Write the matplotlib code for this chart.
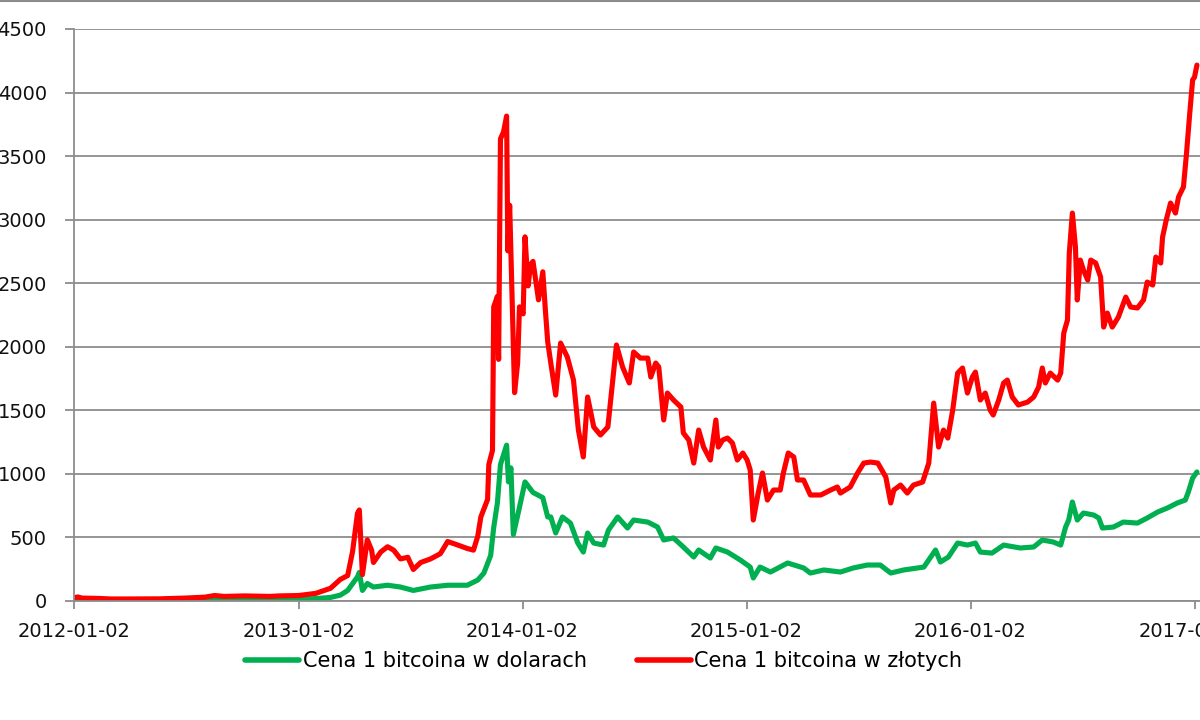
import matplotlib
matplotlib.use('Agg')
import matplotlib.pyplot as plt
import matplotlib.dates as mdates
import pandas as pd
from matplotlib.lines import Line2D

# Cena 1 bitcoina w dolarach (USD)
usd_dates = [
    '2012-01-02', '2012-01-10', '2012-02-01', '2012-03-01', '2012-04-01', '2012-05-01',
    '2012-06-01', '2012-07-01', '2012-08-01', '2012-08-16', '2012-09-01', '2012-10-01',
    '2012-11-01', '2012-12-01', '2013-01-02', '2013-01-30', '2013-02-23', '2013-03-11',
    '2013-03-23', '2013-04-08', '2013-04-11', '2013-04-16', '2013-04-24', '2013-05-04',
    '2013-05-27', '2013-06-17', '2013-07-08', '2013-08-05', '2013-09-02', '2013-10-04',
    '2013-10-21', '2013-10-31', '2013-11-11', '2013-11-16', '2013-11-22', '2013-11-27',
    '2013-12-02', '2013-12-07', '2013-12-10', '2013-12-14', '2013-12-18', '2013-12-27',
    '2014-01-06', '2014-01-19', '2014-02-04', '2014-02-12', '2014-02-17', '2014-02-25',
    '2014-03-08', '2014-03-21', '2014-04-02', '2014-04-11', '2014-04-18', '2014-04-28',
    '2014-05-14', '2014-05-22', '2014-06-06', '2014-06-22', '2014-07-02', '2014-07-25',
    '2014-08-10', '2014-08-20', '2014-09-05', '2014-09-21', '2014-10-08', '2014-10-16',
    '2014-11-04', '2014-11-13', '2014-12-02', '2014-12-23', '2015-01-08', '2015-01-13',
    '2015-01-24', '2015-02-10', '2015-03-10', '2015-04-05', '2015-04-16', '2015-05-08',
    '2015-06-04', '2015-06-25', '2015-07-18', '2015-08-08', '2015-08-25', '2015-09-15',
    '2015-10-18', '2015-11-06', '2015-11-14', '2015-11-27', '2015-12-12', '2015-12-28',
    '2016-01-10', '2016-01-18', '2016-02-06', '2016-02-25', '2016-03-23', '2016-04-14',
    '2016-04-28', '2016-05-16', '2016-05-28', '2016-06-05', '2016-06-10', '2016-06-16',
    '2016-06-24', '2016-07-04', '2016-07-21', '2016-07-29', '2016-08-04', '2016-08-22',
    '2016-09-07', '2016-09-30', '2016-10-16', '2016-11-02', '2016-11-18', '2016-12-04',
    '2016-12-17', '2016-12-22', '2016-12-29', '2017-01-05',
]
usd_values = [
    7, 6.5, 6, 5, 5, 5,
    5.5, 6.7, 9, 13, 10.5, 12.4,
    10.7, 12.6, 13.4, 19, 28, 46,
    83, 190, 225, 83, 138, 110,
    124, 110, 83, 110, 124, 124,
    165, 220, 358, 579, 771, 1074,
    1150, 1226, 937, 1047, 523, 716,
    937, 854, 813, 661, 661, 535,
    661, 613, 456, 385, 535, 456,
    440, 558, 661, 574, 637, 621,
    582, 480, 496, 425, 346, 401,
    338, 417, 385, 322, 267, 181,
    267, 228, 299, 260, 220, 244,
    228, 260, 283, 283, 220, 244,
    267, 401, 307, 346, 456, 440,
    456, 385, 377, 440, 417, 425,
    480, 464, 440, 582, 637, 779,
    637, 692, 676, 653, 574, 582,
    621, 613, 653, 700, 732, 771,
    794, 857, 967, 1015,
]

# Cena 1 bitcoina w zlotych (PLN)
pln_dates = [
    '2012-01-02', '2012-01-08', '2012-01-15', '2012-02-13', '2012-03-01', '2012-04-02',
    '2012-05-21', '2012-07-01', '2012-08-02', '2012-08-18', '2012-09-03', '2012-10-06',
    '2012-11-16', '2012-12-01', '2013-01-02', '2013-01-30', '2013-02-23', '2013-03-11',
    '2013-03-23', '2013-03-31', '2013-04-08', '2013-04-11', '2013-04-16', '2013-04-24',
    '2013-05-01', '2013-05-04', '2013-05-16', '2013-05-27', '2013-06-06', '2013-06-17',
    '2013-06-29', '2013-07-08', '2013-07-20', '2013-08-05', '2013-08-21', '2013-09-02',
    '2013-09-18', '2013-10-04', '2013-10-14', '2013-10-21', '2013-10-26', '2013-11-06',
    '2013-11-08', '2013-11-14', '2013-11-16', '2013-11-22', '2013-11-24', '2013-11-27',
    '2013-12-02', '2013-12-07', '2013-12-09', '2013-12-12', '2013-12-17', '2013-12-20',
    '2013-12-25', '2013-12-28', '2014-01-03', '2014-01-06', '2014-01-11', '2014-01-15',
    '2014-01-19', '2014-01-28', '2014-02-04', '2014-02-08', '2014-02-12', '2014-02-17',
    '2014-02-25', '2014-03-05', '2014-03-16', '2014-03-26', '2014-04-03', '2014-04-11',
    '2014-04-18', '2014-04-28', '2014-05-09', '2014-05-21', '2014-05-29', '2014-06-04',
    '2014-06-14', '2014-06-25', '2014-07-02', '2014-07-13', '2014-07-25', '2014-07-30',
    '2014-08-07', '2014-08-12', '2014-08-20', '2014-08-26', '2014-09-05', '2014-09-17',
    '2014-09-21', '2014-09-30', '2014-10-08', '2014-10-16', '2014-10-24', '2014-11-04',
    '2014-11-13', '2014-11-17', '2014-11-24', '2014-12-02', '2014-12-10', '2014-12-18',
    '2014-12-27', '2015-01-03', '2015-01-08', '2015-01-13', '2015-01-21', '2015-01-28',
    '2015-02-05', '2015-02-15', '2015-02-26', '2015-03-03', '2015-03-11', '2015-03-20',
    '2015-03-26', '2015-04-05', '2015-04-16', '2015-05-03', '2015-05-19', '2015-05-30',
    '2015-06-04', '2015-06-20', '2015-07-02', '2015-07-12', '2015-07-23', '2015-08-04',
    '2015-08-17', '2015-08-25', '2015-08-30', '2015-09-10', '2015-09-21', '2015-10-01',
    '2015-10-16', '2015-10-26', '2015-11-03', '2015-11-11', '2015-11-19', '2015-11-26',
    '2015-12-04', '2015-12-12', '2015-12-20', '2015-12-28', '2016-01-05', '2016-01-10',
    '2016-01-18', '2016-01-26', '2016-02-03', '2016-02-08', '2016-02-17', '2016-02-25',
    '2016-03-02', '2016-03-10', '2016-03-20', '2016-04-04', '2016-04-14', '2016-04-22',
    '2016-04-28', '2016-05-03', '2016-05-11', '2016-05-23', '2016-05-28', '2016-06-02',
    '2016-06-08', '2016-06-11', '2016-06-16', '2016-06-21', '2016-06-24', '2016-06-29',
    '2016-07-04', '2016-07-11', '2016-07-16', '2016-07-24', '2016-08-01', '2016-08-06',
    '2016-08-12', '2016-08-20', '2016-08-30', '2016-09-11', '2016-09-19', '2016-09-30',
    '2016-10-10', '2016-10-16', '2016-10-25', '2016-10-30', '2016-11-07', '2016-11-10',
    '2016-11-16', '2016-11-23', '2016-12-01', '2016-12-06', '2016-12-14', '2016-12-19',
    '2016-12-24', '2016-12-29', '2017-01-01', '2017-01-05',
]
pln_values = [
    24, 32, 23, 20, 16, 16,
    17, 23, 30, 43, 36, 40,
    36, 40, 43, 60, 100, 170,
    200, 390, 690, 716, 207, 482,
    400, 303, 386, 427, 400, 331,
    344, 248, 303, 331, 372, 468,
    441, 413, 400, 510, 661, 799,
    1074, 1185, 2314, 2397, 1901, 3636,
    3691, 3815, 2755, 3113, 2176, 1639,
    1873, 2314, 2259, 2865, 2479, 2645,
    2672, 2369, 2590, 2300, 2039, 1872,
    1620, 2029, 1919, 1738, 1345, 1133,
    1605, 1369, 1306, 1369, 1738, 2014,
    1841, 1715, 1959, 1911, 1911, 1762,
    1872, 1841, 1424, 1636, 1581, 1526,
    1322, 1266, 1085, 1345, 1211, 1109,
    1424, 1211, 1266, 1282, 1243, 1109,
    1164, 1109, 1030, 637, 849, 1007,
    794, 873, 873, 1007, 1164, 1133,
    952, 952, 834, 834, 873, 897,
    849, 897, 1007, 1085, 1093, 1085,
    975, 771, 873, 912, 849, 912,
    936, 1085, 1557, 1211, 1345, 1282,
    1502, 1793, 1833, 1636, 1762, 1801,
    1581, 1636, 1502, 1463, 1581, 1715,
    1738, 1605, 1542, 1565, 1605, 1683,
    1833, 1715, 1793, 1738, 1793, 2108,
    2210, 2737, 3052, 2785, 2368, 2682,
    2604, 2525, 2682, 2659, 2549, 2155,
    2265, 2155, 2234, 2391, 2313, 2305,
    2368, 2509, 2486, 2706, 2659, 2863,
    2997, 3131, 3052, 3178, 3257, 3520,
    3820, 4100, 4120, 4216,
]

y_ticks = [0, 500, 1000, 1500, 2000, 2500, 3000, 3500, 4000, 4500]
x_ticks = ['2012-01-02', '2013-01-02', '2014-01-02', '2015-01-02', '2016-01-02', '2017-01-02']

GREEN = '#00B050'
RED = '#FF0000'
GRID = '#8C8C8C'

plt.rcParams['font.family'] = ['DejaVu Sans']

fig = plt.figure(figsize=(12, 7.2), dpi=100)
ax = fig.add_axes([74 / 1200, 119 / 720, 1126 / 1200, 572 / 720])

ax.plot(pd.to_datetime(usd_dates), usd_values, color=GREEN, lw=3.7,
        solid_joinstyle='round', solid_capstyle='round', label='Cena 1 bitcoina w dolarach')
ax.plot(pd.to_datetime(pln_dates), pln_values, color=RED, lw=3.7,
        solid_joinstyle='round', solid_capstyle='round', label='Cena 1 bitcoina w złotych')

ax.set_ylim(0, 4500)
ax.set_xlim(pd.Timestamp('2012-01-02'), pd.Timestamp('2017-01-10'))
ax.set_yticks(y_ticks)
ax.set_xticks(pd.to_datetime(x_ticks))
ax.xaxis.set_major_formatter(mdates.DateFormatter('%Y-%m-%d'))

ax.grid(axis='y', color=GRID, lw=1.3)
ax.set_axisbelow(True)
for s in ['top', 'right']:
    ax.spines[s].set_visible(False)
for s in ['left', 'bottom']:
    ax.spines[s].set_color(GRID)
    ax.spines[s].set_linewidth(1.3)

ax.tick_params(axis='y', direction='out', length=6.5, width=1.3, color=GRID,
               pad=13, labelsize=14, labelcolor='#111111')
ax.tick_params(axis='x', direction='out', length=6, width=1.3, color=GRID,
               pad=9, labelsize=14, labelcolor='#111111')

# chart frame line at the very top
fig.add_artist(Line2D([0, 1], [0.998, 0.998], color=GRID, lw=1.5))

fig.legend(loc='center', bbox_to_anchor=(0.503, 0.082), ncol=2, frameon=False,
           fontsize=15, handlelength=2.6, handletextpad=0.15, columnspacing=2.4)
for line in fig.legends[0].get_lines():
    line.set_linewidth(4)

fig.savefig('out.png', dpi=100)
